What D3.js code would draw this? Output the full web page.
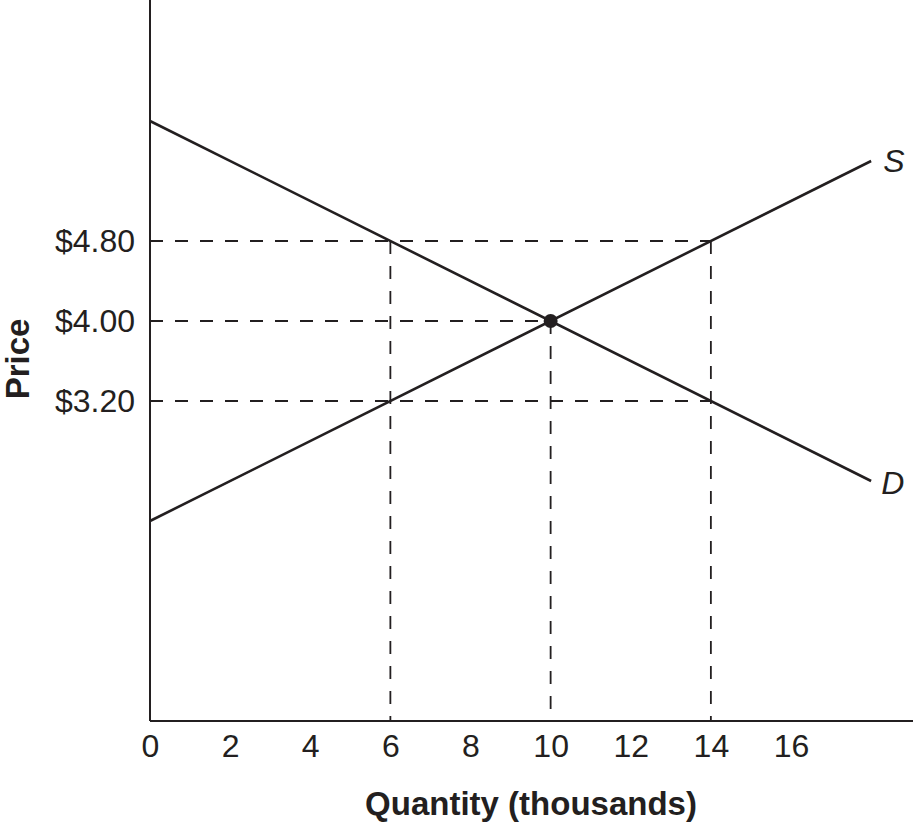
<!DOCTYPE html>
<html>
<head>
<meta charset="utf-8">
<script src="https://cdn.jsdelivr.net/npm/d3@7"></script>
<style>
  body { margin: 0; background: #fff; }
  text { font-family: "Liberation Sans", Arial, Helvetica, sans-serif; fill: #231f20; }
</style>
</head>
<body>
<div id="chart"></div>
<script>
// data
var qTicks = [0, 2, 4, 6, 8, 10, 12, 14, 16];
var priceTicks = [4.80, 4.00, 3.20];
var demand = [{q: 0, p: 6.00}, {q: 18, p: 2.40}];
var supply = [{q: 0, p: 2.00}, {q: 18, p: 5.60}];
var equilibrium = {q: 10, p: 4.00};
// dashed guides: price level -> quantity where the horizontal guide stops
var hGuides = [{p: 4.80, q: 14}, {p: 4.00, q: 10}, {p: 3.20, q: 14}];
// vertical guides: quantity -> price where they start
var vGuides = [{q: 6, p: 4.80}, {q: 10, p: 4.00}, {q: 14, p: 4.80}];

var width = 913, height = 823;
var ink = "#231f20";

var svg = d3.select("#chart").append("svg")
    .attr("width", width)
    .attr("height", height);

var x = d3.scaleLinear().domain([0, 16]).range([150, 791]);
var y = d3.scaleLinear().domain([0, 4.8]).range([721, 241]);

// dashed guides
svg.selectAll(".hguide")
    .data(hGuides)
    .enter().append("line")
    .attr("class", "hguide")
    .attr("x1", x(0))
    .attr("x2", function(d) { return x(d.q); })
    .attr("y1", function(d) { return y(d.p); })
    .attr("y2", function(d) { return y(d.p); })
    .attr("stroke", ink)
    .attr("stroke-width", 1.8)
    .attr("stroke-dasharray", "13,12");

svg.selectAll(".vguide")
    .data(vGuides)
    .enter().append("line")
    .attr("class", "vguide")
    .attr("x1", function(d) { return x(d.q); })
    .attr("x2", function(d) { return x(d.q); })
    .attr("y1", function(d) { return y(d.p); })
    .attr("y2", y(0))
    .attr("stroke", ink)
    .attr("stroke-width", 1.8)
    .attr("stroke-dasharray", "13,12");

// supply & demand curves
var line = d3.line()
    .x(function(d) { return x(d.q); })
    .y(function(d) { return y(d.p); });

svg.append("path")
    .datum(demand)
    .attr("d", line)
    .attr("fill", "none")
    .attr("stroke", ink)
    .attr("stroke-width", 2.6);

svg.append("path")
    .datum(supply)
    .attr("d", line)
    .attr("fill", "none")
    .attr("stroke", ink)
    .attr("stroke-width", 2.6);

svg.append("circle")
    .attr("cx", x(equilibrium.q))
    .attr("cy", y(equilibrium.p))
    .attr("r", 7)
    .attr("fill", ink);

// curve labels
svg.append("text")
    .attr("x", x(supply[1].q) + 12)
    .attr("y", y(supply[1].p) + 11)
    .attr("font-size", 32)
    .attr("font-style", "italic")
    .text("S");

svg.append("text")
    .attr("x", x(demand[1].q) + 10)
    .attr("y", y(demand[1].p) + 13)
    .attr("font-size", 32)
    .attr("font-style", "italic")
    .text("D");

// axes
var xAxis = d3.axisBottom(x)
    .tickValues(qTicks)
    .tickSize(0)
    .tickPadding(13);

var gx = svg.append("g")
    .attr("transform", "translate(0," + y(0) + ")")
    .call(xAxis);
gx.select(".domain").remove();
gx.selectAll("text")
    .attr("font-size", 32)
    .attr("fill", ink);

var yAxis = d3.axisLeft(y)
    .tickValues(priceTicks)
    .tickSize(0)
    .tickPadding(15)
    .tickFormat(function(d) { return "$" + d3.format(".2f")(d); });

var gy = svg.append("g")
    .attr("transform", "translate(" + x(0) + ",0)")
    .call(yAxis);
gy.select(".domain").remove();
gy.selectAll("text")
    .attr("font-size", 32)
    .attr("fill", ink);

// axis lines
svg.append("line")
    .attr("x1", x(0)).attr("x2", width)
    .attr("y1", y(0)).attr("y2", y(0))
    .attr("stroke", ink)
    .attr("stroke-width", 2);

svg.append("line")
    .attr("x1", x(0)).attr("x2", x(0))
    .attr("y1", 0).attr("y2", y(0))
    .attr("stroke", ink)
    .attr("stroke-width", 2);

// axis titles
svg.append("text")
    .attr("x", 531)
    .attr("y", 815)
    .attr("text-anchor", "middle")
    .attr("font-size", 33)
    .attr("font-weight", "bold")
    .text("Quantity (thousands)");

svg.append("text")
    .attr("transform", "translate(29,359) rotate(-90)")
    .attr("text-anchor", "middle")
    .attr("font-size", 33)
    .attr("font-weight", "bold")
    .text("Price");
</script>
</body>
</html>
